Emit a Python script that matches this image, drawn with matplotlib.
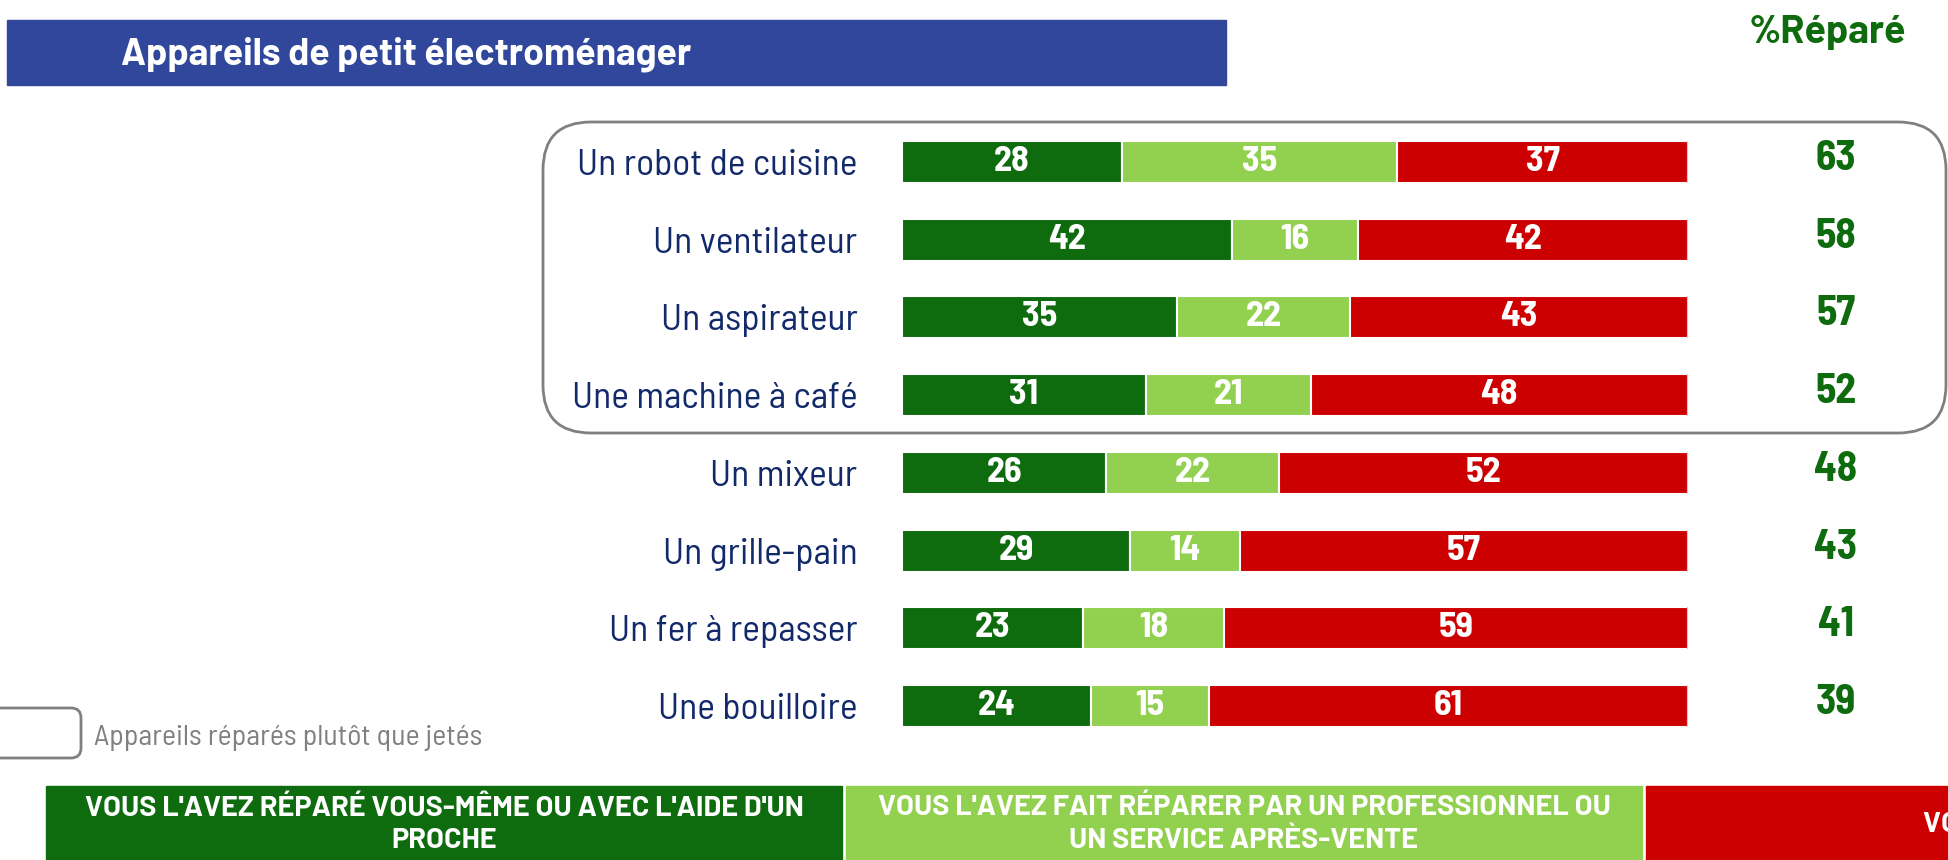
import matplotlib.pyplot as plt
from matplotlib.patches import FancyBboxPatch, Rectangle
from matplotlib.transforms import IdentityTransform
import numpy as np

# categories and shares (%)
categories = ['Un robot de cuisine', 'Un ventilateur', 'Un aspirateur', 'Une machine à café',
              'Un mixeur', 'Un grille-pain', 'Un fer à repasser', 'Une bouilloire']
self_repaired = [28, 42, 35, 31, 26, 29, 23, 24]
pro_repaired = [35, 16, 22, 21, 22, 14, 18, 15]
thrown = [37, 42, 43, 48, 52, 57, 59, 61]
other = [0, 0, 0, 0, 0, 0, 0, 0]

legend_labels = ["VOUS L'AVEZ RÉPARÉ VOUS-MÊME OU AVEC L'AIDE D'UN\nPROCHE",
                 "VOUS L'AVEZ FAIT RÉPARER PAR UN PROFESSIONNEL OU\nUN SERVICE APRÈS-VENTE",
                 "VOUS L'AVEZ JETÉ"]

DARK = '#0E6B0E'
LIGHT = '#92D050'
RED = '#CC0000'
NAVY = '#12296A'
BANNER = '#30479C'
NARROW = ['Barlow Semi Condensed', 'Asap Condensed', 'Archivo Narrow', 'DejaVu Sans']
WIDE = ['Barlow', 'Liberation Sans', 'DejaVu Sans']

W, H = 1949, 860
fig = plt.figure(figsize=(W / 100, H / 100), dpi=100)
px = IdentityTransform()

ax = fig.add_axes([902 / W, 1 - 745 / H, 786 / W, 622 / H])
y = np.arange(len(categories))
s1 = np.array(self_repaired)
s2 = np.array(pro_repaired)
s3 = np.array(thrown)
kw = dict(height=0.54, edgecolor='white', linewidth=1.5)
b1 = ax.barh(y, s1, color=DARK, **kw)
b2 = ax.barh(y, s2, left=s1, color=LIGHT, **kw)
b3 = ax.barh(y, s3, left=s1 + s2, color=RED, **kw)
ax.barh(y, other, left=s1 + s2 + s3, height=0.54, color='none', edgecolor='#F2B8D8', linewidth=1.5)

for bars in (b1, b2, b3):
    ax.bar_label(bars, label_type='center', color='white', fontsize=26,
                 fontweight='bold', family=NARROW)

repaired = s1 + s2
for i, v in enumerate(repaired):
    ax.text(118.8, i - 0.04, str(v), ha='center', va='center', color=DARK, fontsize=30,
            fontweight='bold', family=NARROW, clip_on=False)

ax.set_xlim(0, 100)
ax.set_ylim(len(categories) - 0.5, -0.5)
ax.set_yticks(y)
ax.set_yticklabels(categories, fontsize=27, color=NAVY, family=NARROW)
ax.tick_params(axis='y', length=0, pad=32)
ax.set_xticks([])
for sp in ax.spines.values():
    sp.set_visible(False)

# title banner
fig.add_artist(Rectangle((7, H - 85), 1219, 65, transform=px, color=BANNER))
fig.text(121 / W, 1 - 54 / H, 'Appareils de petit électroménager', color='white',
         fontsize=26.9, fontweight='bold', family=WIDE, ha='left', va='center')
fig.text(1827 / W, 1 - 33 / H, '%Réparé', color=DARK, fontsize=28.3, fontweight='bold',
         family=WIDE, ha='center', va='center')

# highlight boxes
fig.add_artist(FancyBboxPatch((543, H - 433), 1403, 311, transform=px,
                              boxstyle='round,pad=0,rounding_size=48',
                              facecolor='none', edgecolor='#808080', linewidth=2))
fig.add_artist(FancyBboxPatch((-20, H - 758), 101, 50, transform=px,
                              boxstyle='round,pad=0,rounding_size=10',
                              facecolor='none', edgecolor='#808080', linewidth=2))
fig.text(94 / W, 1 - 738 / H, 'Appareils réparés plutôt que jetés', color='#808080',
         fontsize=21.5, family=NARROW, ha='left', va='center')

# bottom legend
for k, (lab, col) in enumerate(zip(legend_labels, [DARK, LIGHT, RED])):
    x0 = 46 + k * 800
    fig.add_artist(Rectangle((x0, 0), 796, 74, transform=px, color=col))
    fig.text((x0 + 398) / W, 1 - 824 / H, lab, color='white', fontsize=20.8,
             fontweight='bold', family=WIDE, ha='center', va='center',
             linespacing=1.35)

fig.savefig('out.png', dpi=100)
